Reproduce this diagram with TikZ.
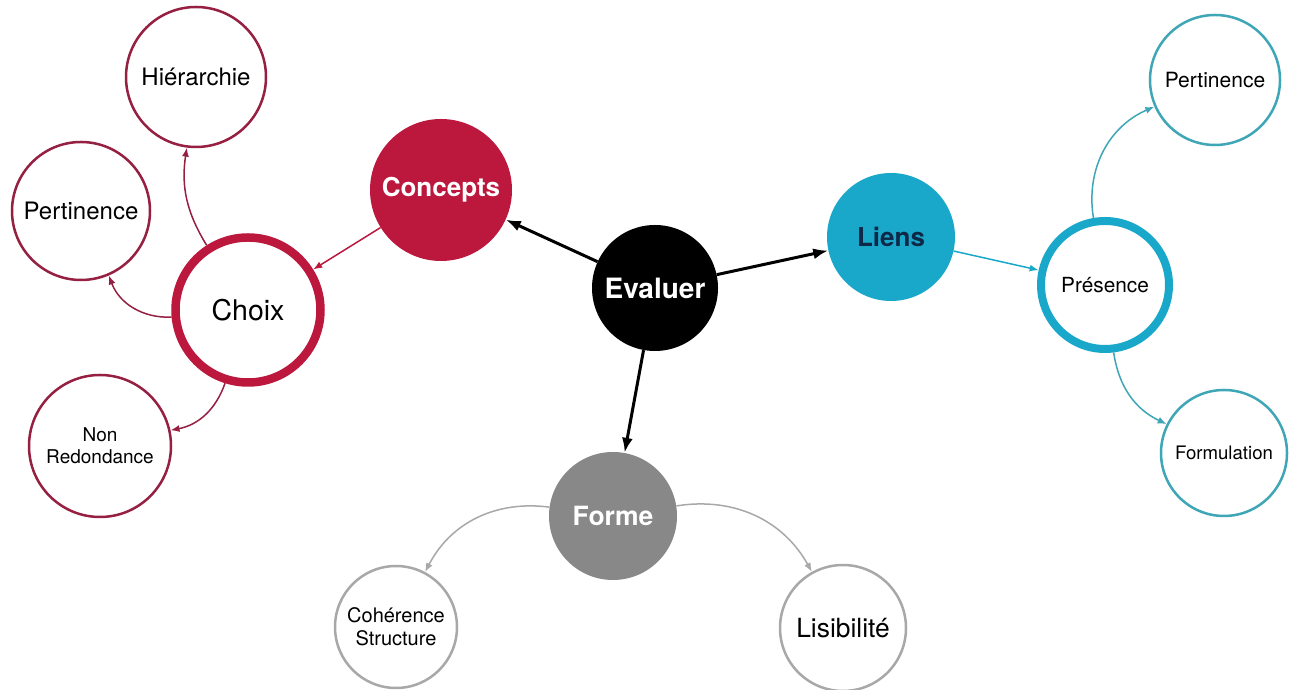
\documentclass[tikz,border=0pt]{standalone}
\usepackage{fontspec}
\setmainfont{TeX Gyre Heros}
\usepackage{tikz}
\usetikzlibrary{arrows.meta}

\definecolor{crimson}{RGB}{188,24,62}
\definecolor{wine}{RGB}{150,32,66}
\definecolor{lagoon}{RGB}{26,168,202}
\definecolor{lagoonleaf}{RGB}{62,166,182}
\definecolor{navy}{RGB}{14,40,72}
\definecolor{slate}{RGB}{136,136,136}
\definecolor{mist}{RGB}{168,168,168}

\newcommand{\fs}[1]{\fontsize{#1}{1.15\dimexpr#1pt\relax}\selectfont}

\begin{document}
\begin{tikzpicture}[x=1pt, y=1pt]
  \tikzset{bubble/.style={circle, inner sep=0pt, align=center},
    hub/.style={bubble, fill=#1, text=white, font=\bfseries\fs{26}},
    ring/.style={bubble, draw=#1, line width=8.5pt, fill=white},
    leaf/.style={bubble, draw=#1, line width=2.5pt, fill=white},
    every edge/.style={draw, ->, line width=1.5pt},
    big/.style={line width=3pt, black, >={Latex[length=15pt,width=11pt]}},
    thin/.style={#1, >={Latex[length=9pt,width=7pt]}}}
  \useasboundingbox[fill=white] (0,0) rectangle (1291,690);

  % centre and the three branches
  \node[hub=black, minimum size=126pt, font=\bfseries\fs{28}] (ev) at (655,402) {Evaluer};
  \node[hub=crimson, minimum size=142pt] (co) at (441,500) {Concepts};
  \node[hub=lagoon, minimum size=128pt, text=navy] (li) at (891,453) {Liens};
  \node[hub=slate, minimum size=128pt, font=\bfseries\fs{26.5}] (fo) at (613,174) {Forme};

  % concepts side
  \node[ring=crimson, minimum size=145pt, font=\fs{28.5}] (ch) at (248,380) {Choix};
  \node[leaf=wine, minimum size=140pt, font=\fs{24}] (hi) at (196,613) {Hiérarchie};
  \node[leaf=wine, minimum size=138pt, font=\fs{24}] (pg) at (81,479) {Pertinence};
  \node[leaf=wine, minimum size=142pt, font=\fontsize{19}{22}\selectfont] (nr) at (100,244) {Non\\Redondance};

  % liens side
  \node[ring=lagoon, line width=8pt, minimum size=128pt, font=\fs{20.8}] (pr) at (1105,405) {Présence};
  \node[leaf=lagoonleaf, minimum size=130pt, font=\fs{21}] (pd) at (1215,610) {Pertinence};
  \node[leaf=lagoonleaf, minimum size=126pt, font=\fs{18.6}] (fm) at (1224,237) {Formulation};

  % forme side
  \node[leaf=mist, minimum size=122pt, font=\fontsize{20}{23}\selectfont] (cs) at (396,63) {Cohérence\\Structure};
  \node[leaf=mist, minimum size=126pt, font=\fs{26.4}] (ls) at (843,62) {Lisibilité};

  \draw (ev) edge[big] (co) (ev) edge[big] (li) (ev) edge[big] (fo);
  \draw (co) edge[thin=crimson] (ch);
  \draw (ch) edge[thin=wine, bend left=20] (hi) (ch) edge[thin=wine, bend left=36] (pg);
  \draw (ch) edge[thin=wine, bend left=30] (nr);
  \draw (li) edge[thin=lagoon] (pr);
  \draw (pr) edge[thin=lagoonleaf, bend left=38] (pd) (pr) edge[thin=lagoonleaf, bend right=28] (fm);
  \draw (fo) edge[thin=mist, bend right=35] (cs) (fo) edge[thin=mist, bend left=35] (ls);
\end{tikzpicture}
\end{document}
